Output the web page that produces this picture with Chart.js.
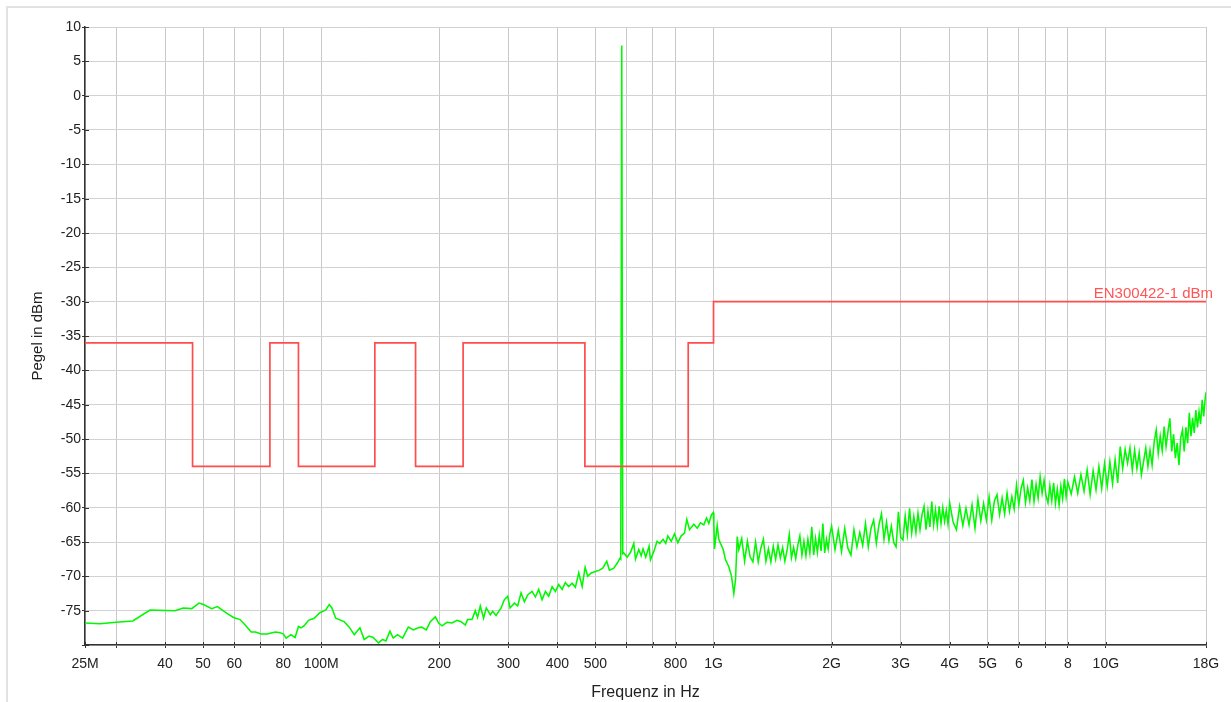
<!DOCTYPE html>
<html><head><meta charset="utf-8">
<script src="https://cdn.jsdelivr.net/npm/chart.js@4/dist/chart.umd.min.js"></script>
<style>
html,body{margin:0;padding:0;background:#fff;overflow:hidden;width:1231px;height:702px}
#frame{position:absolute;left:6px;top:6px;width:1300px;height:800px;border:2px solid #e2e2e2;box-sizing:border-box}
#wrap{position:absolute;left:0;top:0;width:1231px;height:702px}
</style></head><body>
<div id="frame"></div>
<div id="wrap"><canvas id="c" width="1231" height="702"></canvas></div>
<script>
// X axis ticks (MHz) and their labels
const xTickValues = [25,30,40,50,60,70,80,100,200,300,400,500,600,700,800,1000,2000,3000,4000,5000,6000,7000,8000,10000,18000];
const xTickLabels = ['25M','','40','50','60','','80','100M','200','300','400','500','','','800','1G','2G','3G','4G','5G','6','','8','10G','18G'];

// EN300422-1 limit line (MHz, dBm) - each level holds until the next frequency
const limitFreq  = [25, 47, 74, 87.5, 137, 174, 230, 470, 862, 1000, 18000];
const limitLevel = [-36, -54, -36, -54, -36, -54, -36, -54, -36, -30, -30];
const limitName = 'EN300422-1 dBm';

// Measured spectrum (MHz, dBm)
const measFreq = [25.0,27.3,30.0,33.1,36.6,42.4,44.5,46.8,48.8,50.1,52.6,54.4,57.5,59.8,62.1,64.0,66.3,68.0,70.3,72.8,76.3,78.6,80.1,81.4,83.7,85.8,87.5,88.8,90.5,92.8,96.0,99.2,
102.7,104.8,106.5,108.9,114.4,117.9,121.4,125.5,128.7,132.5,135.7,140.0,143.3,146.2,149.7,152.6,156.5,161.3,166.7,171.7,176.8,180.4,185.3,189.7,195.4,199.2,203.2,209.2,215.5,221.9,227.2,233.0,236.1,242.3,247.0,250.4,254.4,259.4,263.5,269.8,273.6,279.1,287.4,293.0,298.8,
303.0,310.8,316.8,323.2,329.5,336.0,344.6,351.6,358.4,365.6,372.8,380.1,387.8,395.3,403.1,411.2,419.2,427.4,436.0,444.5,453.3,462.5,470.7,477.9,487.5,500,511.9,521.9,534.3,542.8,556.9,568.1,576.9,580.1,583.5,587.0,590.6,602.5,614.3,626.3,632.5,644.9,654.1,661.3,671.8,685.0,690.6,704.1,717.9,729.4,743.6,755.5,764.7,780.1,795.3,810.9,827.2,843.4,854.8,868.5,890.8,908.8,926.5,944.7,959.8,972.8,988.3,998.2,
1001.8,1005.9,1021.9,1031.6,1041.9,1058.6,1073.0,1093.9,1111.5,1126.6,1137.9,1149.3,
1160,1180,1200,1220,1240,1260,1280,1300,1320,1340,1360,1380,1400,1420,1440,1460,1480,1500,1520,1540,1560,1580,1600,1620,1640,1660,1680,1700,1720,1740,1760,1780,1800,1820,1840,1860,1880,1900,1920,1940,1960,1980,2000,
2040,2080,2120,2160,2200,2240,2280,2320,2360,2400,2440,2480,2520,2560,2600,2640,2680,2720,2760,2800,2840,2880,2920,2960,3000,3040,3080,3120,3160,3200,3240,3280,3320,3360,3400,3440,3480,3520,3560,3600,3640,3680,3720,3760,3800,3840,3880,3920,3960,4000,
4080,4160,4240,4320,4400,4480,4560,4640,4720,4800,4880,4960,5040,5120,5200,5280,5360,5440,5520,5600,5680,5760,5840,5920,6000,6080,6160,6240,6320,6400,6480,6560,6640,6720,6800,6880,6960,7040,7120,7200,7280,7360,7440,7520,7600,7680,7760,7840,7920,8000,
8160,8320,8480,8640,8800,8960,9120,9280,9440,9600,9760,9920,10080,10240,10400,10560,10720,10880,11040,11200,11360,11520,11680,11840,12000,12160,12320,12480,12640,12800,12960,13120,13280,13440,13600,13760,13920,14080,14240,14400,14560,14720,14880,15040,15200,15360,15520,15680,15840,16000,16160,16320,16480,16640,16800,16960,17120,17280,17440,17600,17760,17920,18000];
const measLevel = [-76.8,-76.9,-76.7,-76.5,-74.9,-75.0,-74.6,-74.7,-73.9,-74.1,-74.7,-74.4,-75.4,-76.0,-76.3,-77.1,-78.1,-78.1,-78.4,-78.4,-78.1,-78.2,-78.4,-79.0,-78.5,-78.9,-77.3,-77.5,-77.2,-76.4,-76.1,-75.3,
-74.9,-74.1,-74.6,-76.1,-76.6,-77.4,-78.5,-77.5,-79.2,-78.7,-78.9,-79.7,-79.2,-79.4,-78.0,-79.0,-78.5,-79.0,-77.4,-77.8,-77.5,-77.4,-77.8,-76.6,-75.9,-76.8,-77.2,-76.7,-76.8,-76.4,-76.6,-77.1,-76.3,-76.3,-75.0,-76.0,-74.3,-76.1,-74.6,-75.6,-75.1,-75.7,-74.6,-73.4,-72.9,
-74.6,-73.9,-74.3,-72.4,-73.7,-72.7,-72.2,-73.0,-71.9,-73.4,-72.2,-72.9,-71.5,-72.2,-71.2,-71.9,-70.9,-71.5,-71.0,-71.6,-69.5,-71.5,-68.7,-70.0,-69.5,-69.3,-69.1,-68.8,-67.8,-69.1,-68.8,-68.1,-67.4,-67.5,7.3,-66.7,-66.6,-67.2,-66.5,-65.2,-67.5,-66.1,-67.0,-66.0,-67.2,-65.6,-67.6,-66.4,-64.9,-65.2,-64.6,-65.2,-64.1,-64.9,-63.8,-65.1,-64.1,-63.7,-61.7,-63.2,-62.4,-63.0,-62.2,-62.5,-61.5,-62.3,-61.0,-60.7,
-62.3,-66.0,-62.6,-64.6,-65.2,-66.1,-67.6,-68.6,-70.0,-72.5,-70.5,-64.2,
-66.1,-64.5,-67.8,-64.9,-67.2,-67.9,-65.0,-67.9,-65.9,-64.6,-67.8,-66.0,-67.9,-65.6,-67.5,-65.4,-67.3,-65.8,-67.8,-66.2,-63.9,-67.3,-65.8,-67.4,-65.5,-64.1,-66.9,-64.9,-67.0,-64.6,-66.6,-62.8,-66.9,-64.5,-66.5,-64.0,-66.3,-62.3,-66.6,-64.6,-66.0,-63.8,-62.7,
-66.1,-63.3,-66.4,-63.0,-65.9,-66.9,-63.2,-65.7,-63.6,-65.5,-62.3,-65.7,-63.0,-61.8,-65.2,-62.5,-60.9,-64.6,-62.1,-64.8,-62.7,-65.1,-65.7,-60.6,-64.3,-64.7,-61.2,-63.9,-60.1,-63.7,-61.3,-63.6,-60.8,-63.2,-61.0,-59.8,-63.2,-60.5,-62.8,-59.1,-62.5,-60.3,-62.6,-59.8,-62.3,-60.0,-62.0,-60.4,-62.4,-59.3,
-62.1,-63.2,-59.8,-62.6,-60.1,-62.5,-59.6,-63.0,-58.8,-61.9,-59.4,-61.8,-58.4,-61.8,-59.0,-58.1,-61.0,-58.6,-60.9,-57.9,-60.5,-58.4,-60.2,-56.7,-59.6,-57.2,-56.0,-59.3,-57.1,-59.0,-55.9,-59.1,-56.6,-58.6,-55.5,-57.9,-56.0,-58.3,-59.3,-56.8,-59.0,-56.4,-59.4,-57.3,-59.6,-56.9,-58.7,-55.8,-58.4,-56.3,
-58.0,-55.5,-57.9,-55.2,-57.6,-54.5,-58.1,-54.6,-57.4,-54.0,-57.2,-53.6,-56.9,-53.3,-56.5,-53.0,-56.4,-51.1,-54.3,-51.5,-53.5,-51.3,-54.5,-51.6,-54.3,-52.0,-55.2,-53.3,-51.3,-54.0,-51.6,-53.8,-50.4,-48.7,-52.1,-49.6,-51.7,-48.2,-51.1,-48.9,-47.0,-51.8,-49.3,-52.8,-50.6,-53.8,-49.8,-48.7,-51.8,-48.3,-50.6,-46.2,-49.6,-46.9,-49.1,-45.8,-48.3,-46.0,-47.8,-44.3,-46.7,-44.0,-43.2];

const FONT = "'Liberation Sans', Arial, sans-serif";
const INK = '#222222';

const extraPlugin = {
  id: 'extra',
  beforeDatasetsDraw(chart) {
    const ctx = chart.ctx, a = chart.chartArea, xs = chart.scales.x, ys = chart.scales.y;
    ctx.save();
    ctx.strokeStyle = '#333';
    ctx.lineWidth = 1;
    ys.ticks.forEach(t => {
      const py = Math.round(ys.getPixelForValue(t.value)) + 0.5;
      ctx.beginPath(); ctx.moveTo(a.left, py); ctx.lineTo(a.left + 4, py); ctx.stroke();
    });
    xs.ticks.forEach(t => {
      const px = Math.round(xs.getPixelForValue(t.value)) + 0.5;
      ctx.beginPath(); ctx.moveTo(px, a.bottom); ctx.lineTo(px, a.bottom - 3); ctx.stroke();
    });
    ctx.restore();
  },
  afterDatasetsDraw(chart) {
    const ctx = chart.ctx, a = chart.chartArea, ys = chart.scales.y;
    const py = ys.getPixelForValue(limitLevel[limitLevel.length - 1]);
    ctx.save();
    ctx.font = '15px ' + FONT;
    ctx.fillStyle = '#ff5555';
    ctx.textAlign = 'right';
    ctx.textBaseline = 'alphabetic';
    ctx.fillText(limitName, a.right + 7, py - 4);
    ctx.restore();
  }
};

new Chart(document.getElementById('c'), {
  type: 'line',
  data: {
    datasets: [
      {
        label: limitName,
        data: limitFreq.map((f, i) => ({x: f, y: limitLevel[i]})),
        borderColor: '#ff4d4d',
        borderWidth: 1.7,
        stepped: 'before',
        pointRadius: 0,
        fill: false
      },
      {
        label: 'Messung',
        data: measFreq.map((f, i) => ({x: f, y: measLevel[i]})),
        borderColor: '#00f800',
        borderWidth: 1.55,
        pointRadius: 0,
        tension: 0,
        fill: false
      }
    ]
  },
  options: {
    responsive: false,
    animation: false,
    devicePixelRatio: 1,
    layout: {padding: {left: 0, right: 25, top: 27, bottom: 0}},
    plugins: {legend: {display: false}, tooltip: {enabled: false}},
    scales: {
      x: {
        type: 'logarithmic',
        min: 25, max: 18000,
        afterBuildTicks(s) { s.ticks = xTickValues.map(v => ({value: v})); },
        afterFit(s) { s.height = 57; },
        ticks: {
          autoSkip: false, maxRotation: 0, minRotation: 0, padding: 8,
          color: INK, font: {family: FONT, size: 14},
          callback(v) { const i = xTickValues.indexOf(v); return i >= 0 ? xTickLabels[i] : ''; }
        },
        grid: {color: '#c9c9c9', lineWidth: 1, tickColor: '#333', tickLength: 3},
        border: {color: '#333', width: 1.5},
        title: {display: true, text: 'Frequenz in Hz', color: INK, font: {family: FONT, size: 16}, padding: {top: 0, bottom: 0}}
      },
      y: {
        min: -80, max: 10,
        afterFit(s) { s.width = 85; },
        ticks: {
          stepSize: 2.5, padding: 1, color: INK, font: {family: FONT, size: 14},
          callback(v) { return (v % 5 === 0 && v !== -80) ? String(v) : ''; }
        },
        grid: {color: '#d2d2d2', lineWidth: 1, tickColor: '#333', tickLength: 3},
        border: {color: '#333', width: 1.5},
        title: {display: true, text: 'Pegel in dBm', color: INK, font: {family: FONT, size: 15}, padding: {top: 29, bottom: 0}}
      }
    }
  },
  plugins: [extraPlugin]
});
</script>
</body></html>
